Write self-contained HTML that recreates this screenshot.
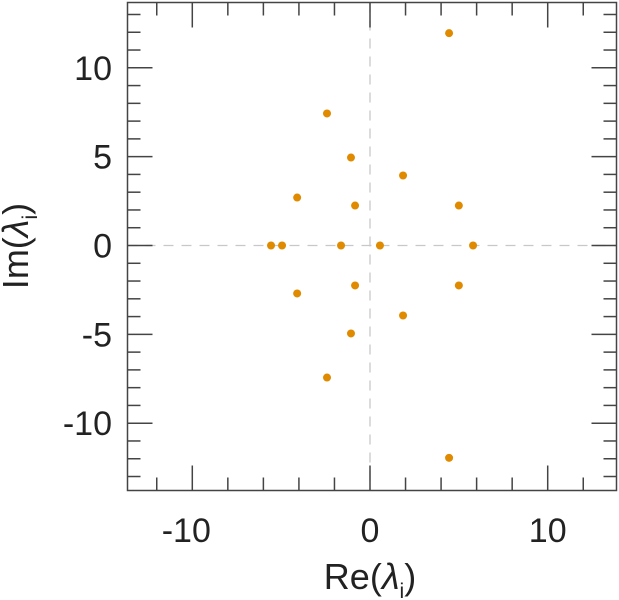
<!DOCTYPE html>
<html><head><meta charset="utf-8"><style>
html,body{margin:0;padding:0;background:#fff;}
svg{display:block;font-family:"Liberation Sans",Arial,sans-serif;}
</style></head><body>
<svg id="chart" width="619" height="600" viewBox="0 0 619 600"></svg>
<script>
const reVals=[4.45,-2.42,-1.07,1.86,-4.1,-0.84,5.0,-5.57,-4.95,-1.63,0.56,5.8,-4.1,-0.84,5.0,-1.07,1.86,-2.42,4.45];
const imVals=[11.95,7.43,4.95,3.94,2.7,2.25,2.25,0,0,0,0,0,-2.7,-2.25,-2.25,-4.95,-3.94,-7.43,-11.95];
const xTickLabels=[-10,0,10];
const yTickLabels=[-10,-5,0,5,10];
const NS="http://www.w3.org/2000/svg";
const svg=document.getElementById('chart');
const L=127.5,R=616.5,T=2.5,B=490.5;
const x0=370,y0=245.5,k=17.77;
const sx=v=>x0+v*k, sy=v=>y0-v*k;
function mk(t,a,p){const e=document.createElementNS(NS,t);for(const n in a)e.setAttribute(n,a[n]);(p||svg).appendChild(e);return e;}
const zh=mk('line',{x1:L,x2:R,y1:sy(0),y2:sy(0),stroke:'#c8c8c8','stroke-width':1.3,'stroke-dasharray':'10,8'});


const zv=mk('line',{x1:sx(0),x2:sx(0),y1:T,y2:B,stroke:'#c8c8c8','stroke-width':1.3,'stroke-dasharray':'10,8'});


const fr=mk('rect',{x:L,y:T,width:R-L,height:B-T,fill:'none',stroke:'#444','stroke-width':1.5});


const tg=mk('g',{stroke:'#444','stroke-width':1.5});


for(let v=-12;v<=12;v+=2){const X=sx(v);const len=(v%10===0)?25:13;
 mk('line',{x1:X,x2:X,y1:B,y2:B-len},tg);mk('line',{x1:X,x2:X,y1:T,y2:T+len},tg);}
for(let v=-13;v<=13;v+=1){const Y=sy(v);const len=(v%5===0)?25:13;
 mk('line',{x1:L,x2:L+len,y1:Y,y2:Y},tg);mk('line',{x1:R,x2:R-len,y1:Y,y2:Y},tg);}
xTickLabels.forEach(v=>{const t=mk('text',{x:sx(v)-(v<0?6:0),y:542,'text-anchor':'middle','font-size':34,fill:'#222'});t.textContent=String(v);
 
 });
yTickLabels.forEach(v=>{const t=mk('text',{x:112,y:sy(v)+12,'text-anchor':'end','font-size':34,fill:'#222'});t.textContent=String(v);
 
 });
const pg=mk('g',{fill:'#e08a00'});


reVals.forEach((r,i)=>{const c=mk('circle',{cx:sx(r),cy:sy(imVals[i]),r:4},pg);
 
 });
const xt=document.createElementNS(NS,'text');
xt.setAttribute('x',370);xt.setAttribute('y',589);xt.setAttribute('text-anchor','middle');xt.setAttribute('font-size',36);xt.setAttribute('fill','#222');
xt.innerHTML='Re(<tspan font-style="italic">λ</tspan><tspan font-size="21" dy="9">i</tspan><tspan dy="-9">)</tspan>';


svg.appendChild(xt);
const yt=document.createElementNS(NS,'text');
yt.setAttribute('transform','translate(28,246) rotate(-90)');yt.setAttribute('text-anchor','middle');yt.setAttribute('font-size',36);yt.setAttribute('fill','#222');
yt.innerHTML='Im(<tspan font-style="italic">λ</tspan><tspan font-size="21" dy="9">i</tspan><tspan dy="-9">)</tspan>';


svg.appendChild(yt);
</script>
</body></html>
